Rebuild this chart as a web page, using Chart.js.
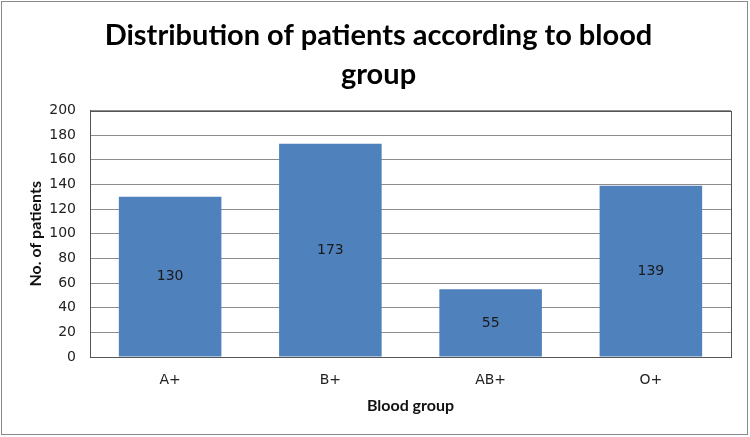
<!DOCTYPE html>
<html>
<head>
<meta charset="utf-8">
<script src="https://cdn.jsdelivr.net/npm/chart.js@4"></script>
<style>
  html, body { margin: 0; padding: 0; background: #fff; }
  #wrap { width: 750px; height: 437px; }
</style>
</head>
<body>
<div id="wrap"><canvas id="mycanvas" width="750" height="437"></canvas></div>
<script>
// chart data
var groups = ['A+', 'B+', 'AB+', 'O+'];
var patients = [130, 173, 55, 139];
var yTicks = [0, 20, 40, 60, 80, 100, 120, 140, 160, 180, 200];

// labels in the middle of each bar, plus plot frame and outer border
var decor = {
  id: 'decor',
  afterDatasetsDraw: function(chart) {
    var ctx = chart.ctx;
    var meta = chart.getDatasetMeta(0);
    ctx.save();
    ctx.font = '14px "DejaVu Sans"';
    ctx.fillStyle = '#1a1a1a';
    ctx.textAlign = 'center';
    ctx.textBaseline = 'middle';
    meta.data.forEach(function(bar, i) {
      ctx.fillText(String(patients[i]), bar.x, (bar.y + bar.base) / 2);
    });
    var a = chart.chartArea;
    ctx.strokeStyle = '#555';
    ctx.lineWidth = 1;
    ctx.strokeRect(Math.round(a.left) + 0.5, Math.round(a.top) + 0.5,
      Math.round(a.right - a.left), Math.round(a.bottom - a.top));
    ctx.strokeStyle = '#8a8a8a';
    ctx.strokeRect(1.5, 1.5, 746, 433);
    ctx.restore();
  }
};

var ctx = document.getElementById('mycanvas');
new Chart(ctx, {
  type: 'bar',
  data: {
    labels: groups,
    datasets: [{
      label: 'No. of patients',
      data: patients,
      backgroundColor: '#4f81bd',
      borderColor: '#4f81bd',
      borderWidth: 0,
      categoryPercentage: 1,
      barPercentage: 0.64
    }]
  },
  options: {
    responsive: false,
    animation: false,
    layout: { padding: { left: 26, right: 19, top: 0, bottom: 22 } },
    plugins: {
      legend: { display: false },
      tooltip: { enabled: false },
      title: {
        display: true,
        text: ['Distribution of patients according to blood', 'group'],
        color: '#000',
        font: { family: 'Lato', size: 29, weight: 'bold', lineHeight: 1.32 },
        padding: { top: 17, bottom: 17 }
      }
    },
    scales: {
      x: {
        grid: { display: false, drawTicks: false },
        border: { color: '#555' },
        ticks: { color: '#222', font: { family: 'DejaVu Sans', size: 14 }, padding: 15 },
        title: {
          display: true,
          text: 'Blood group',
          color: '#111',
          font: { family: 'Lato', size: 16, weight: 'bold' },
          padding: { top: 6, bottom: 0 }
        },
        afterFit: function(scale) { scale.height = 58; }
      },
      y: {
        min: 0,
        max: 200,
        afterBuildTicks: function(scale) {
          scale.ticks = yTicks.map(function(v) { return { value: v }; });
        },
        grid: { color: '#8c8c8c', drawTicks: false },
        border: { color: '#555' },
        ticks: { color: '#222', font: { family: 'DejaVu Sans', size: 14 }, padding: 14 },
        title: {
          display: true,
          text: 'No. of patients',
          color: '#111',
          font: { family: 'Lato', size: 16, weight: 'bold' },
          padding: { top: 0, bottom: 4 }
        },
        afterFit: function(scale) { scale.width = 64; }
      }
    }
  },
  plugins: [decor]
});
</script>
</body>
</html>
